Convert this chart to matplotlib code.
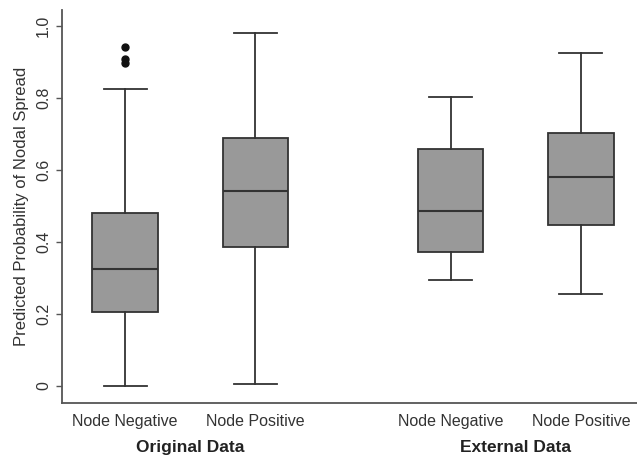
import matplotlib.pyplot as plt

plt.rcParams['font.family'] = ['Liberation Sans', 'DejaVu Sans']

# box summaries
groups = ["Original Data", "External Data"]
labels = ["Node Negative", "Node Positive", "Node Negative", "Node Positive"]
positions = [1, 2, 3.5, 4.5]
whislo = [0.0, 0.004, 0.294, 0.255]
q1 = [0.204, 0.386, 0.372, 0.447]
med = [0.324, 0.542, 0.486, 0.580]
q3 = [0.480, 0.688, 0.658, 0.702]
whishi = [0.825, 0.980, 0.802, 0.927]
fliers = [[0.942, 0.908, 0.899], [], [], []]

stats = []
for i in range(len(labels)):
    stats.append(dict(label=labels[i], whislo=whislo[i], q1=q1[i], med=med[i],
                      q3=q3[i], whishi=whishi[i], fliers=fliers[i]))

fig = plt.figure(figsize=(6.37, 4.58), dpi=100)
ax = fig.add_axes([62 / 637, 55 / 458, 1 - 62 / 637, 393 / 458])

edge = '#333333'
ax.bxp(stats, positions=positions, widths=0.5, capwidths=0.33, patch_artist=True,
       boxprops=dict(facecolor='#999999', edgecolor=edge, linewidth=1.3),
       medianprops=dict(color=edge, linewidth=1.5),
       whiskerprops=dict(color=edge, linewidth=1.3, linestyle='-'),
       capprops=dict(color=edge, linewidth=1.3),
       flierprops=dict(marker='o', markerfacecolor='#111111', markeredgecolor='#111111',
                       markersize=5))

ax.set_xlim(0.516, 4.93)
ax.set_ylim(-0.0485, 1.0453)
ax.set_yticks([0, 0.2, 0.4, 0.6, 0.8, 1.0])
ax.set_yticklabels(['0', '0.2', '0.4', '0.6', '0.8', '1.0'], rotation=90, va='center')
ax.tick_params(axis='y', length=4, width=1, color='#555555', labelsize=11.5,
               labelcolor='#333333', pad=4)
ax.tick_params(axis='x', length=0, labelsize=11.5, labelcolor='#333333', pad=8)
ax.set_xticks(positions)
ax.set_xticklabels(labels)

for side in ['top', 'right']:
    ax.spines[side].set_visible(False)
for side in ['left', 'bottom']:
    ax.spines[side].set_color('#555555')
    ax.spines[side].set_linewidth(1.3)

ax.set_ylabel('Predicted Probability of Nodal Spread', fontsize=12, color='#333333', labelpad=5)

ax.text(1.5, -0.113, groups[0], transform=ax.get_xaxis_transform(), ha='center', va='center',
        fontsize=12.5, fontweight='bold', color='#222222')
ax.text(4.0, -0.113, groups[1], transform=ax.get_xaxis_transform(), ha='center', va='center',
        fontsize=12.5, fontweight='bold', color='#222222')

fig.savefig('out.png', dpi=100)
